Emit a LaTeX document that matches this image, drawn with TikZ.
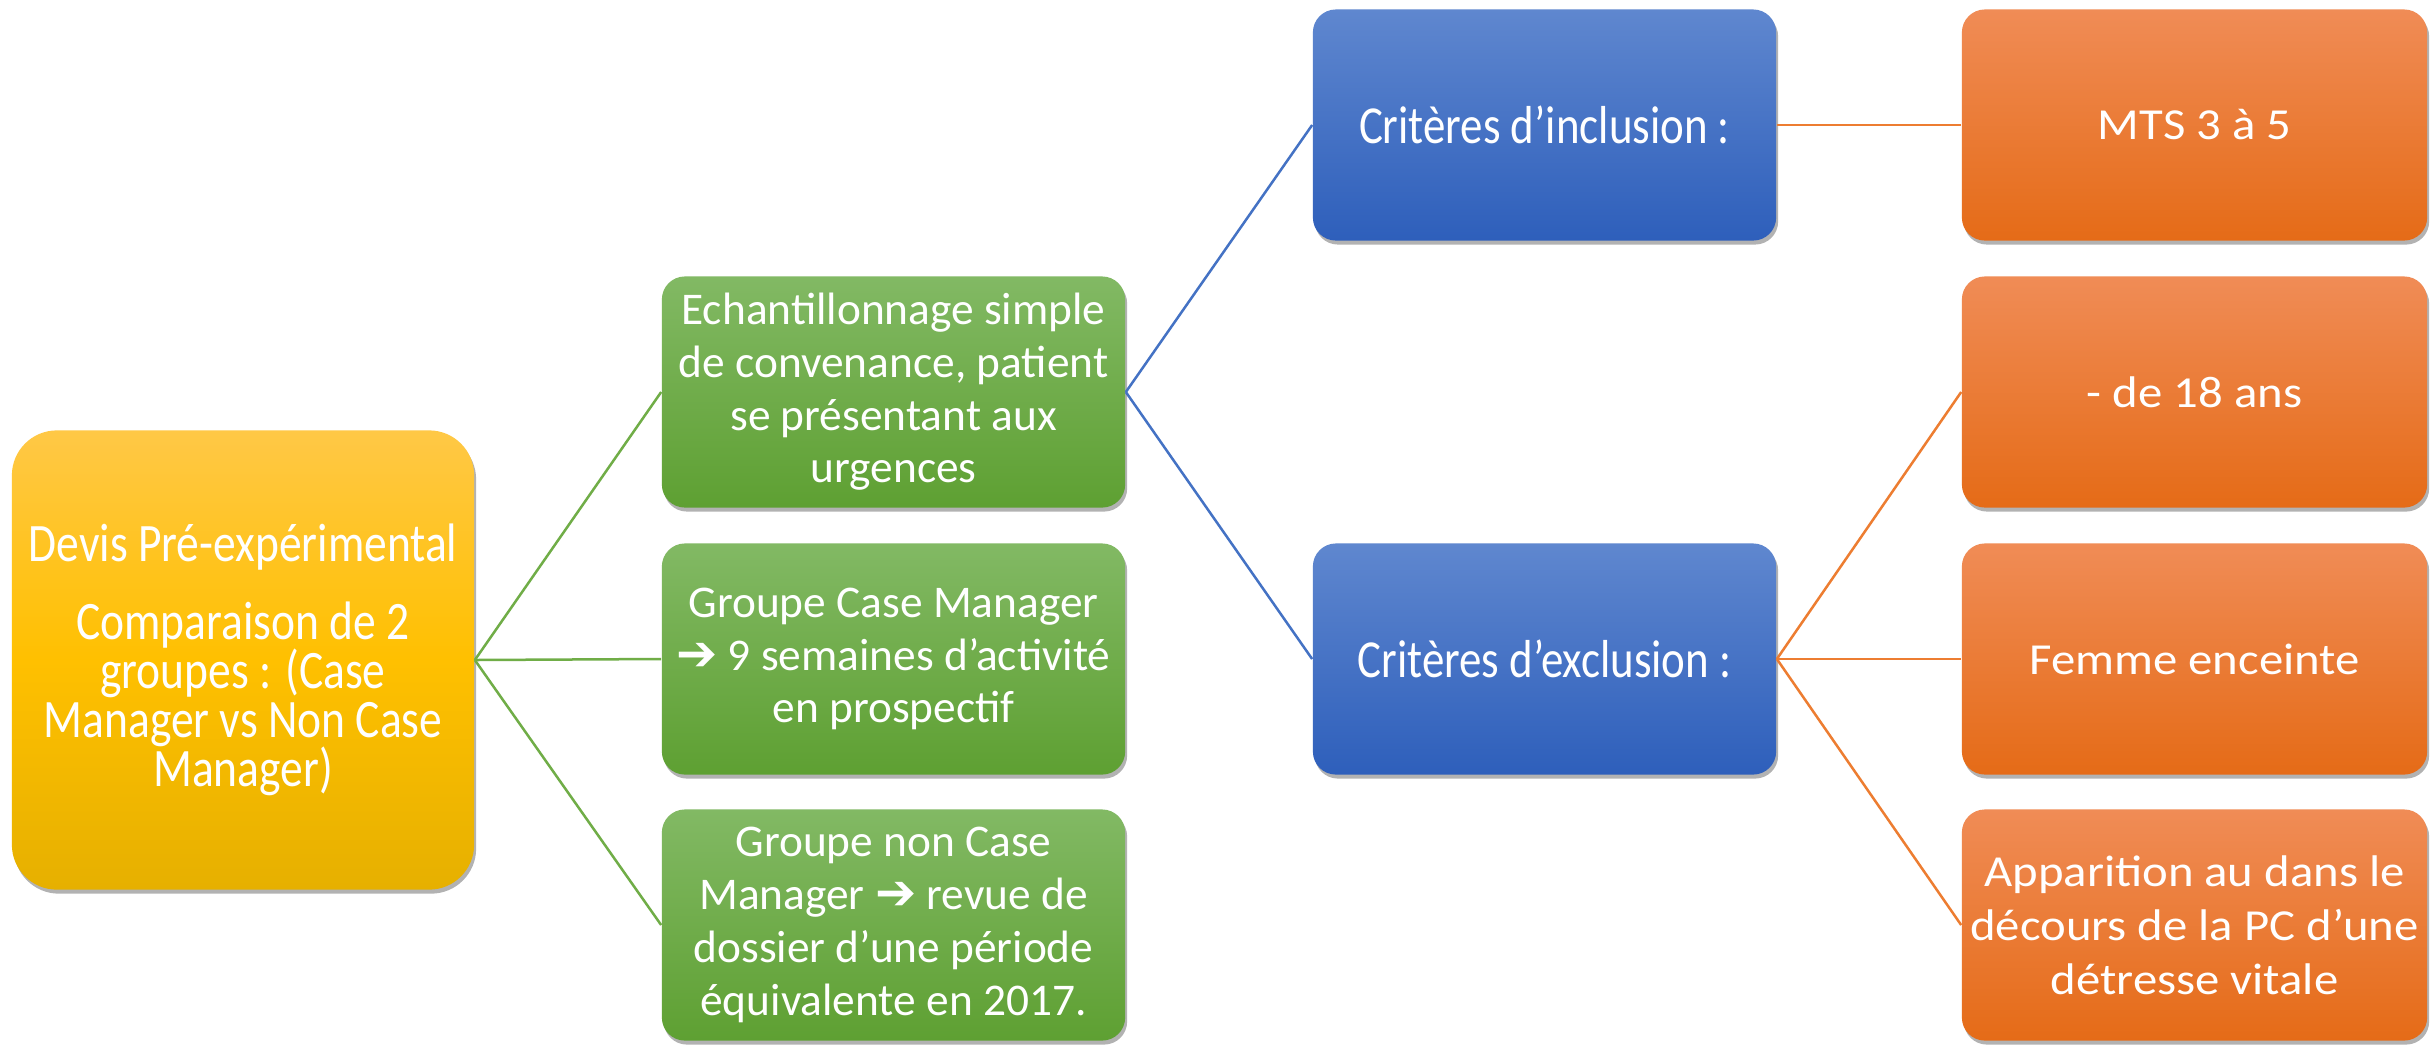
\documentclass[tikz,border=0pt]{standalone}
\usepackage{fontspec}
\setmainfont{Carlito}
\newfontfamily\narrowf[FakeStretch=0.84]{Carlito}
\newfontfamily\widef[FakeStretch=1.1]{Carlito}
\newfontfamily\arrowf{DejaVu Sans}
\usetikzlibrary{shadows}
\definecolor{yelT}{HTML}{FFC846}
\definecolor{yelM}{HTML}{FFC000}
\definecolor{yelB}{HTML}{E6B000}
\definecolor{grnT}{HTML}{82B964}
\definecolor{grnB}{HTML}{5EA032}
\definecolor{bluT}{HTML}{5F87CF}
\definecolor{bluB}{HTML}{2E5FBB}
\definecolor{orgT}{HTML}{F08C56}
\definecolor{orgB}{HTML}{E56B17}
\definecolor{grnL}{HTML}{70AD47}
\definecolor{bluL}{HTML}{4472C4}
\definecolor{orgL}{HTML}{ED7D31}
\tikzset{
  box/.style={rounded corners=0.23cm, text=white, align=center, inner sep=0pt,
    minimum width=4.63cm, minimum height=2.31cm,
    drop shadow={shadow xshift=0.02cm, shadow yshift=-0.04cm, opacity=0.3, fill=black}},
  yelbox/.style={box, rounded corners=0.45cm, top color=yelT, bottom color=yelB, middle color=yelM,
    minimum width=4.62cm, minimum height=4.59cm, font=\narrowf\fontsize{15.4}{14}\selectfont},
  grnbox/.style={box, top color=grnT, bottom color=grnB, font=\fontsize{12.9}{15}\selectfont},
  blubox/.style={box, top color=bluT, bottom color=bluB, font=\narrowf\fontsize{15.2}{15}\selectfont},
  orgbox/.style={box, top color=orgT, bottom color=orgB, minimum width=4.65cm, font=\widef\fontsize{12.6}{15.4}\selectfont},
  gline/.style={draw=grnL, line width=0.025cm},
  bline/.style={draw=bluL, line width=0.025cm},
  oline/.style={draw=orgL, line width=0.025cm},
}
\newcommand{\bigarrow}{{\arrowf\bfseries\fontsize{14}{15}\selectfont ➔}}
\begin{document}
\begin{tikzpicture}[x=0.01cm,y=-0.01cm]
\useasboundingbox[fill=white] (0,0) rectangle (2436,1044);
\node[yelbox] (yel) at (243,660) {Devis Pré-expérimental\\[8pt]Comparaison de 2\\groupes : (Case\\Manager vs Non Case\\Manager)};
\node[grnbox] (g1) at (893.5,392) {Echantillonnage simple\\de convenance, patient\\se présentant aux\\urgences};
\node[grnbox] (g2) at (893.5,659) {Groupe Case Manager\\\bigarrow{} 9 semaines d’activité\\en prospectif};
\node[grnbox] (g3) at (893.5,925) {Groupe non Case\\Manager \bigarrow{} revue de\\dossier d’une période\\équivalente en 2017.};
\node[blubox] (b1) at (1544.5,125) {Critères d’inclusion :};
\node[blubox] (b2) at (1544.5,659) {Critères d’exclusion :};
\node[orgbox] (o1) at (2194.5,125) {MTS 3 à 5};
\node[orgbox] (o2) at (2194.5,392) {- de 18 ans};
\node[orgbox] (o3) at (2194.5,659) {Femme enceinte};
\node[orgbox] (o4) at (2194.5,925) {Apparition au dans le\\décours de la PC d’une\\détresse vitale};
\draw[gline] (yel.east) -- (g1.west);
\draw[gline] (yel.east) -- (g2.west);
\draw[gline] (yel.east) -- (g3.west);
\draw[bline] (g1.east) -- (b1.west);
\draw[bline] (g1.east) -- (b2.west);
\draw[oline] (b1.east) -- (o1.west);
\draw[oline] (b2.east) -- (o2.west);
\draw[oline] (b2.east) -- (o3.west);
\draw[oline] (b2.east) -- (o4.west);
\end{tikzpicture}
\end{document}
